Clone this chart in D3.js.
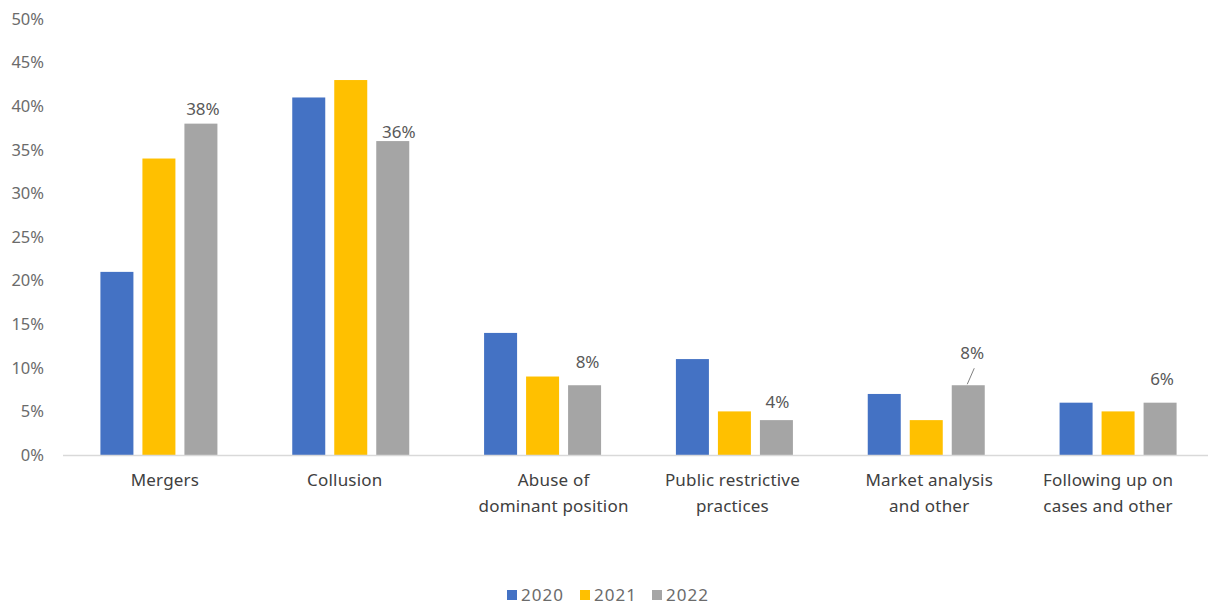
<!DOCTYPE html>
<html>
<head>
<meta charset="utf-8">
<script src="https://cdn.jsdelivr.net/npm/d3@7"></script>
<style>
    body { margin: 0; background: #fff; }
    text { font-family: "Noto Sans", "Open Sans", sans-serif; }
</style>
</head>
<body>
<svg id="chart" width="1208" height="605"></svg>
<script>
const categories = [
    ["Mergers"],
    ["Collusion"],
    ["Abuse of", "dominant position"],
    ["Public restrictive", "practices"],
    ["Market analysis", "and other"],
    ["Following up on", "cases and other"],
];
const years = ["2020", "2021", "2022"];
const values2020 = [21, 41, 14, 11, 7, 6];
const values2021 = [34, 43, 9, 5, 4, 5];
const values2022 = [38, 36, 8, 4, 8, 6];
const yTicks = [0, 5, 10, 15, 20, 25, 30, 35, 40, 45, 50];

const colors = { "2020": "#4472c4", "2021": "#ffc000", "2022": "#a5a5a5" };

// label nudges for the 2022 data labels (dx, dy from default spot)
const labelNudge = [[2, -9], [6, -3], [3, -17], [1, -12], [4, -26], [2, -18]];
// category labels sit a bit off the group centre
const catNudge = [6, -6, 11, -2, 3, -10];

const svg = d3.select("#chart");
const margin = { left: 63, right: -6, top: 19, bottom: 150 };
const width = 1208, height = 605;

const series = [values2020, values2021, values2022];

const x0 = d3.scaleBand()
    .domain(d3.range(categories.length))
    .range([margin.left, width - margin.right])
    .padding(0);

const x1 = d3.scaleBand()
    .domain(years)
    .range([0, 117])
    .paddingInner(9 / 42)
    .paddingOuter(0);

const y = d3.scaleLinear()
    .domain([0, 50])
    .range([455, margin.top]);

// y axis labels
const yAxis = d3.axisLeft(y)
    .tickValues(yTicks)
    .tickFormat((d) => d + "%")
    .tickSize(0)
    .tickPadding(0);

svg.append("g")
    .attr("transform", "translate(44,0)")
    .call(yAxis)
    .call((g) => g.select(".domain").remove())
    .selectAll("text")
    .attr("fill", "#6b6b6b")
    .style("font-size", "16.5px")
    .style("font-family", "'Noto Sans', sans-serif");

// bars
const groups = svg.selectAll("g.cat")
    .data(categories)
    .enter()
    .append("g")
    .attr("class", "cat")
    .attr("transform", (d, i) => `translate(${x0(i) + (x0.bandwidth() - 117) / 2},0)`);

groups.selectAll("rect")
    .data((d, i) => years.map((yr, j) => ({ year: yr, value: series[j][i] })))
    .enter()
    .append("rect")
    .attr("x", (d) => x1(d.year))
    .attr("y", (d) => y(d.value))
    .attr("width", x1.bandwidth())
    .attr("height", (d) => y(0) - y(d.value))
    .attr("fill", (d) => colors[d.year]);

// x axis line
svg.append("line")
    .attr("x1", margin.left)
    .attr("x2", width)
    .attr("y1", y(0) + 0.5)
    .attr("y2", y(0) + 0.5)
    .attr("stroke", "#d9d9d9")
    .attr("stroke-width", 1.5);

// category labels
categories.forEach((lines, i) => {
    const cx = x0(i) + x0.bandwidth() / 2 + catNudge[i];
    const t = svg.append("text")
        .attr("x", cx)
        .attr("y", 486)
        .attr("text-anchor", "middle")
        .attr("fill", "#404040")
        .style("font-size", "17px")
        .style("letter-spacing", "0.2px");
    lines.forEach((line, k) => {
        t.append("tspan")
            .attr("x", cx)
            .attr("dy", k === 0 ? 0 : 26)
            .text(line);
    });
});

// data labels for 2022
categories.forEach((c, i) => {
    const bx = x0(i) + (x0.bandwidth() - 117) / 2 + x1("2022") + x1.bandwidth() / 2;
    const by = y(values2022[i]);
    svg.append("text")
        .attr("x", bx + labelNudge[i][0])
        .attr("y", by + labelNudge[i][1])
        .attr("text-anchor", "middle")
        .attr("fill", "#595959")
        .style("font-size", "17px")
        .text(values2022[i] + "%");
    if (i === 4) {
        svg.append("line")
            .attr("x1", bx + 6)
            .attr("y1", by - 17)
            .attr("x2", bx - 1)
            .attr("y2", by - 1)
            .attr("stroke", "#808080")
            .attr("stroke-width", 1);
    }
});

// legend
const legend = svg.append("g").attr("transform", "translate(507,595)");
const legendX = [0, 73, 145];
years.forEach((yr, i) => {
    legend.append("rect")
        .attr("x", legendX[i])
        .attr("y", -5)
        .attr("width", 10)
        .attr("height", 10)
        .attr("fill", colors[yr]);
    legend.append("text")
        .attr("x", legendX[i] + 14)
        .attr("y", 0)
        .attr("dy", "0.35em")
        .attr("fill", "#6b6b6b")
        .style("font-size", "17px")
        .style("letter-spacing", "1px")
        .text(yr);
});
</script>
</body>
</html>
